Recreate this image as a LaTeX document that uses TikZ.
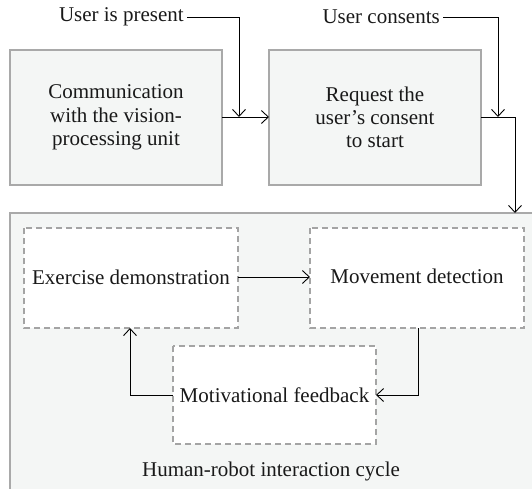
\documentclass[tikz,border=0pt]{standalone}
\usepackage{fontspec}
\setmainfont{Liberation Serif}
\usetikzlibrary{arrows.meta}
\definecolor{boxfill}{HTML}{F4F6F5}
\definecolor{boxline}{HTML}{A9A9A9}
\definecolor{dashline}{HTML}{A4A4A4}
\begin{document}
\begin{tikzpicture}[x=1pt,y=-1pt,
  every node/.style={font=\fontsize{21}{23.3}\selectfont, text=black!90},
  solidbox/.style={draw=boxline, fill=boxfill, line width=1.2pt, align=center},
  dashbox/.style={draw=dashline, fill=white, line width=1.1pt, dash pattern=on 6pt off 4pt},
  lbl/.style={inner sep=3pt},
  conn/.style={draw=black, line width=0.9pt},
  arr/.style={conn, -{Straight Barb[length=7pt,width=13pt]}}]
\useasboundingbox (0,0) rectangle (532,488);
\clip (0,0) rectangle (532,488);
% outer cycle box
\fill[boxfill] (10,213) rectangle (545,500);
\draw[boxline, line width=1.2pt] (545,213) -- (10,213) -- (10,500);
% top boxes
\draw[solidbox] (10,50) rectangle (222,185);
\node[align=center] (comm) at (116,117.5) {Communication\\with the vision-\\processing unit};
\coordinate (commE) at (222,117);
\draw[solidbox] (269,50) rectangle (481,185);
\node[align=center] (req) at (375,117.5) {Request the\\user’s consent\\to start};
\coordinate (reqW) at (269,117);
\coordinate (reqE) at (481,117);
% labels
\node[lbl, anchor=east] (up) at (187,17) {User is present};
\node[lbl, anchor=east] (uc) at (443,17) {User consents};
\coordinate (j1) at (239,117);
\coordinate (j2) at (498,117);
\coordinate (cyc) at (515,213);
\draw[arr] (up.east) -| (j1);
\draw[arr] (commE) -- (reqW);
\draw[arr] (uc.east) -| (j2);
\draw[arr] (reqE) -| (cyc);
% inner dashed boxes
\draw[dashbox] (24,228) rectangle (238,328);
\node (ex) at (131,277.5) {Exercise demonstration};
\coordinate (exE) at (238,277);
\coordinate (exS) at (130,328);
\draw[dashbox] (310,228) rectangle (524,328);
\node (mov) at (417,276.5) {Movement detection};
\coordinate (movW) at (310,277);
\coordinate (movS) at (418,328);
\draw[dashbox] (173,346) rectangle (376,444);
\node (mot) at (274.5,395.5) {Motivational feedback};
\coordinate (motE) at (376,395);
\coordinate (motW) at (173,395);
\node (cap) at (271,471) {Human-robot interaction cycle};
\draw[arr] (exE) -- (movW);
\draw[arr] (movS) |- (motE);
\draw[arr] (motW) -| (exS);
\end{tikzpicture}
\end{document}
